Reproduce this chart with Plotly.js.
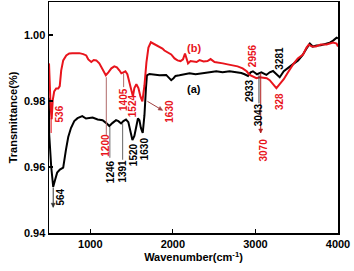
<!DOCTYPE html>
<html>
<head>
<meta charset="utf-8">
<script src="https://cdn.plot.ly/plotly-3.0.1.min.js"></script>
<style>html,body{margin:0;padding:0;background:#fff;}#chart{width:354px;height:271px;}</style>
</head>
<body>
<div id="chart"></div>
<script>
// Series (a): black
const waveA = [500,502,527,551,575,599,632,672,705,733,766,806,846,879,903,948,988,1028,1089,1149,1194,1231,1267,1312,1340,1373,1401,1433,1461,1486,1510,1534,1555,1577,1595,1613,1635,1656,1674,1686,1716,1777,1838,1919,1947,1980,2008,2032,2080,2141,2202,2275,2360,2445,2526,2602,2687,2760,2829,2869,2910,2942,2970,3019,3072,3133,3173,3213,3254,3294,3343,3395,3452,3517,3568,3619,3659,3695,3740,3792,3861,3901,3941,3983,4000];
const transA = [0.9810,0.9700,0.9600,0.9540,0.9562,0.9583,0.9592,0.9598,0.9652,0.9691,0.9718,0.9739,0.9748,0.9753,0.9754,0.9747,0.9748,0.9750,0.9744,0.9742,0.9733,0.9724,0.9733,0.9742,0.9739,0.9732,0.9739,0.9744,0.9736,0.9706,0.9682,0.9694,0.9721,0.9747,0.9742,0.9718,0.9703,0.9757,0.9838,0.9878,0.9882,0.9879,0.9878,0.9879,0.9872,0.9863,0.9869,0.9876,0.9878,0.9881,0.9884,0.9881,0.9885,0.9887,0.9890,0.9887,0.9890,0.9887,0.9885,0.9881,0.9876,0.9887,0.9890,0.9881,0.9887,0.9879,0.9887,0.9891,0.9881,0.9872,0.9890,0.9899,0.9911,0.9923,0.9938,0.9959,0.9974,0.9965,0.9968,0.9969,0.9974,0.9977,0.9983,0.9992,0.9990];

// Series (b): red
const waveB = [500,508,520,532,545,563,587,612,630,648,672,709,745,782,830,867,915,951,976,1012,1042,1073,1109,1146,1188,1219,1255,1291,1322,1352,1376,1401,1425,1449,1473,1498,1516,1534,1558,1583,1607,1631,1656,1680,1704,1734,1765,1801,1838,1874,1898,1935,1980,2020,2056,2093,2123,2147,2165,2184,2214,2250,2287,2323,2372,2420,2457,2505,2554,2606,2663,2724,2784,2845,2894,2930,2967,3012,3052,3092,3137,3173,3209,3254,3294,3343,3395,3456,3513,3577,3619,3647,3683,3732,3792,3861,3941,3983,4000];
const transB = [0.9914,0.9847,0.9780,0.9745,0.9802,0.9829,0.9838,0.9838,0.9845,0.9893,0.9923,0.9938,0.9944,0.9945,0.9945,0.9945,0.9942,0.9938,0.9926,0.9918,0.9924,0.9923,0.9914,0.9899,0.9878,0.9887,0.9899,0.9905,0.9902,0.9893,0.9884,0.9887,0.9890,0.9881,0.9857,0.9827,0.9814,0.9839,0.9851,0.9839,0.9814,0.9799,0.9847,0.9917,0.9962,0.9978,0.9974,0.9968,0.9963,0.9959,0.9953,0.9947,0.9941,0.9929,0.9923,0.9921,0.9926,0.9944,0.9929,0.9914,0.9921,0.9920,0.9918,0.9924,0.9920,0.9921,0.9927,0.9918,0.9917,0.9914,0.9911,0.9908,0.9905,0.9899,0.9890,0.9879,0.9875,0.9869,0.9872,0.9870,0.9869,0.9863,0.9851,0.9839,0.9851,0.9866,0.9887,0.9911,0.9929,0.9941,0.9962,0.9971,0.9965,0.9965,0.9971,0.9971,0.9977,0.9974,0.9965];

// Peak labels
const labelText  = ["536","564","1200","1246","1391","1520","1630","1405","1524","1630","(b)","(a)","2956","2933","3043","3070","3281","328"];
const labelSeries = ["b","a","b","a","a","a","a","b","b","b","b","a","b","a","a","b","a","b"];

const xTicks = [1000,2000,3000,4000];
const yTicks = [0.94,0.96,0.98,1.00];

const RED = '#e8141c', BLACK = '#000000';
const FONT = 'Arial, "Liberation Sans", sans-serif';
const X0 = 500, X1 = 4000, Y0 = 0.94, Y1 = 1.01;
const PW = 354-49-16, PH = 271-2-38;
const dxPerPx = (X1-X0)/PW, dyPerPx = (Y1-Y0)/PH;

// label placement (layout)
const labelPos = [[624,0.9760],[636,0.9508],[1188,0.9667],[1237,0.9587],[1388,0.9587],[1522,0.9637],[1656,0.9655],[1404,0.9805],[1504,0.9787],[1959,0.9769],[2250,0.9962],[2250,0.9835],[2967,0.9938],[2930,0.9832],[3031,0.9760],[3092,0.9650],[3288,0.9929],[3294,0.9799]];

const annotations = labelText.map((t,i)=>({
  x: labelPos[i][0], y: labelPos[i][1], xref:'x', yref:'y',
  text: t, showarrow:false,
  textangle: t.startsWith('(') ? 0 : -90,
  font:{family:FONT, size: t.startsWith('(') ? 11 : 10, color: labelSeries[i]==='b'?RED:BLACK, weight:'bold'}
}));

// leader lines [x0,y0,x1,y1,color,arrowAtEnd]
const leaders = [
  [551,0.9538,551,0.9478,'#333',true],
  [526,0.9748,526,0.9703,RED,false],
  [1194,0.9872,1194,0.9697,'#b06a6a',false],
  [1237,0.9721,1237,0.9628,'#666',false],
  [1392,0.9733,1392,0.9622,'#666',false],
  [1404,0.9884,1404,0.9842,'#b06a6a',false],
  [1692,0.9799,1874,0.9772,'#a04040',true],
  [3043,0.9878,3043,0.9793,'#444',false],
  [3064,0.9884,3064,0.9703,'#b02020',true]
];
const shapes = [];
leaders.forEach(l=>{
  shapes.push({type:'line', xref:'x', yref:'y', x0:l[0], y0:l[1], x1:l[2], y1:l[3], line:{color:l[4], width:1}});
  if (l[5]) {
    // small arrowhead at (x1,y1), built in pixel space then converted
    const vx = (l[2]-l[0])/dxPerPx, vy = -(l[3]-l[1])/dyPerPx;
    const len = Math.hypot(vx,vy); const ux = vx/len, uy = vy/len;
    const L = 4, W = 2;
    const bx = -ux*L, by = -uy*L;
    const p1 = [bx - uy*W, by + ux*W], p2 = [bx + uy*W, by - ux*W];
    const toD = p => [l[2] + p[0]*dxPerPx, l[3] - p[1]*dyPerPx];
    const a = toD(p1), b = toD(p2);
    shapes.push({type:'path', xref:'x', yref:'y',
      path:`M${l[2]},${l[3]} L${a[0]},${a[1]} L${b[0]},${b[1]} Z`,
      fillcolor:l[4], line:{color:l[4], width:0.5}});
  }
});

const traces = [
  {x: waveA, y: transA, mode:'lines', line:{color:BLACK, width:2}, name:'(a)', hoverinfo:'skip'},
  {x: waveB, y: transB, mode:'lines', line:{color:RED, width:2}, name:'(b)', hoverinfo:'skip'}
];

const layout = {
  width:354, height:271,
  margin:{l:49, r:16, t:2, b:38},
  paper_bgcolor:'#fff', plot_bgcolor:'#fff',
  showlegend:false,
  xaxis:{range:[X0,X1], tickvals:xTicks, ticktext:xTicks.map(String), ticks:'inside', ticklen:4, tickcolor:'#000', tickwidth:1.2,
    showline:true, linecolor:'#000', linewidth:1.5, mirror:true, showgrid:false, zeroline:false,
    tickfont:{family:FONT, size:11, color:'#000', weight:'bold'},
    title:{text:'Wavenumber(cm<sup>-1</sup>)', font:{family:FONT, size:11, color:'#000', weight:'bold'}, standoff:4}},
  yaxis:{range:[Y0,Y1], tickvals:yTicks, ticktext:yTicks.map(v=>v.toFixed(2)), ticks:'inside', ticklen:4, tickcolor:'#000', tickwidth:1.2,
    showline:true, linecolor:'#000', linewidth:1.5, mirror:true, showgrid:false, zeroline:false,
    tickfont:{family:FONT, size:11, color:'#000', weight:'bold'},
    title:{text:'Transmittance(%)', font:{family:FONT, size:11, color:'#000', weight:'bold'}, standoff:4}},
  annotations: annotations,
  shapes: shapes
};

Plotly.newPlot('chart', traces, layout, {staticPlot:true, displayModeBar:false});
</script>
</body>
</html>
